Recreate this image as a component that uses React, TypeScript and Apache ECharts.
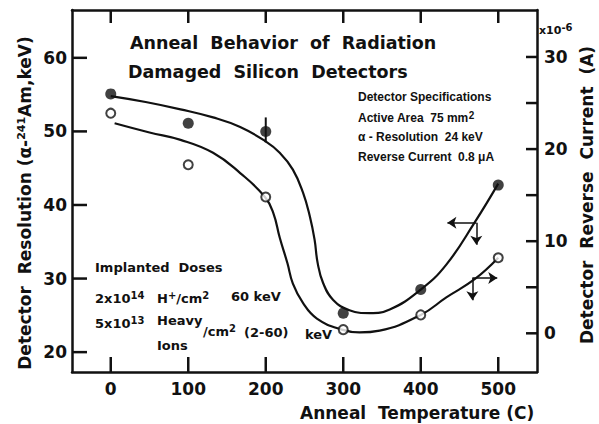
import React, { useEffect, useRef } from "react";
import * as echarts from "echarts";

// ---- data ----
const temperatures = [0, 100, 200, 300, 400, 500];
const resolutionKeV = [55.1, 51.1, 50.0, 25.3, 28.5, 42.7];
const reverseCurrent = [23.9, 18.3, 14.8, 0.4, 2.0, 8.2];

const resolutionFitT = [0, 45, 90, 132, 167, 199, 218, 235, 248, 257, 263, 267, 274, 287, 308, 334, 360, 400, 433, 470, 500];
const resolutionFitV = [54.8, 54.0, 53.0, 51.9, 50.6, 48.7, 47.1, 44.8, 41.7, 38.4, 35.3, 32.1, 29.4, 27.1, 25.7, 25.3, 25.8, 28.5, 31.9, 37.7, 42.9];

const currentFitT = [5, 50, 90, 132, 167, 199, 210, 218, 228, 235, 248, 266, 298, 321, 347, 400, 433, 470, 500];
const currentFitV = [22.8, 21.8, 21.0, 19.6, 17.4, 14.8, 13.0, 10.4, 7.6, 5.4, 3.3, 1.6, 0.4, 0.1, 0.3, 2.0, 3.9, 5.9, 8.2];

// error bar on the 200 C resolution point: [T, low, high]
const resolutionErrorBar = [200, 48.5, 51.9];

// axis arrows: [x1, y1, x2, y2]
const resolutionArrows = [
  [471.7, 37.6, 434.4, 37.6],
  [471.7, 37.6, 471.7, 34.6],
];
const currentArrows = [
  [466.6, 6.0, 498.7, 6.0],
  [466.6, 6.0, 466.6, 3.6],
];

// axis ranges and ticks
const X_RANGE = [-50, 550];
const LEFT_RANGE = [17.3, 66.5];
const RIGHT_RANGE = [-4.2, 35.1];
const xTicks = [0, 100, 200, 300, 400, 500];
const leftTicks = [20, 30, 40, 50, 60];
const rightTicks = [0, 5, 10, 15, 20, 25, 30];
const rightLabels = [0, 10, 20, 30];

const INK = "#111";
const FONT = "DejaVu Sans";
const FONT_NARROW = "Liberation Sans";

export default function App() {
  const ref = useRef<HTMLDivElement>(null);

  useEffect(() => {
    if (!ref.current) return;
    const chart = echarts.init(ref.current, undefined, { renderer: "svg" });

    const toPairs = (xs: number[], ys: number[]) => xs.map((x, i) => [x, ys[i]]);
    const arrowData = (arr: number[][]) =>
      arr.map((a) => [{ coord: [a[0], a[1]] }, { coord: [a[2], a[3]] }]);

    const supStyle = (size: number, lift: number, family = FONT) => ({
      fontSize: size,
      fontWeight: "bold",
      fontFamily: family,
      fill: INK,
      color: INK,
      verticalAlign: "top",
      padding: [0, 0, lift, 0],
    });

    const txt = (left: number, top: number, text: string, fontSize: number, rich?: any, family = FONT) => ({
      type: "text",
      left,
      top,
      style: { text, fontSize, fontWeight: "bold", fontFamily: family, fill: INK, rich },
    });

    const tickLine = (x1: number, y1: number, x2: number, y2: number) => ({
      type: "line",
      shape: { x1, y1, x2, y2 },
      style: { stroke: INK, lineWidth: 2.5 },
    });

    const baseAxisLine = { show: true, onZero: false, lineStyle: { color: INK, width: 2.5 } };
    const tickLabel = { fontSize: 17, fontWeight: "bold", fontFamily: FONT, color: INK };

    const option: any = {
      animation: false,
      backgroundColor: "#fff",
      grid: { left: 72, right: 62, top: 10, bottom: 52 },
      xAxis: [
        {
          type: "value",
          min: X_RANGE[0],
          max: X_RANGE[1],
          position: "bottom",
          axisLine: baseAxisLine,
          axisTick: { show: false },
          axisLabel: { customValues: xTicks, margin: 8, ...tickLabel },
          splitLine: { show: false },
        },
        {
          type: "value",
          min: X_RANGE[0],
          max: X_RANGE[1],
          position: "top",
          axisLine: baseAxisLine,
          axisTick: { show: false },
          axisLabel: { show: false },
          splitLine: { show: false },
        },
      ],
      yAxis: [
        {
          type: "value",
          min: LEFT_RANGE[0],
          max: LEFT_RANGE[1],
          position: "left",
          axisLine: baseAxisLine,
          axisTick: { show: false },
          axisLabel: { customValues: leftTicks, margin: 5, ...tickLabel },
          splitLine: { show: false },
        },
        {
          type: "value",
          min: RIGHT_RANGE[0],
          max: RIGHT_RANGE[1],
          position: "right",
          axisLine: baseAxisLine,
          axisTick: { show: false },
          axisLabel: { customValues: rightLabels, margin: 7, ...tickLabel },
          splitLine: { show: false },
        },
      ],
      series: [
        // inward ticks on bottom and top frame
        {
          type: "custom",
          xAxisIndex: 0,
          yAxisIndex: 0,
          silent: true,
          clip: false,
          data: xTicks.map((t) => [t, LEFT_RANGE[0]]),
          renderItem: (_p: any, api: any) => {
            const t = api.value(0);
            const b = api.coord([t, LEFT_RANGE[0]]);
            const tp = api.coord([t, LEFT_RANGE[1]]);
            return {
              type: "group",
              children: [tickLine(b[0], b[1], b[0], b[1] - 15), tickLine(tp[0], tp[1], tp[0], tp[1] + 13)],
            };
          },
        },
        // inward ticks on left frame
        {
          type: "custom",
          xAxisIndex: 0,
          yAxisIndex: 0,
          silent: true,
          clip: false,
          data: leftTicks.map((v) => [X_RANGE[0], v]),
          renderItem: (_p: any, api: any) => {
            const p = api.coord([X_RANGE[0], api.value(1)]);
            return tickLine(p[0], p[1], p[0] + 15, p[1]);
          },
        },
        // inward ticks on right frame
        {
          type: "custom",
          xAxisIndex: 0,
          yAxisIndex: 1,
          silent: true,
          clip: false,
          data: rightTicks.map((v) => [X_RANGE[1], v]),
          renderItem: (_p: any, api: any) => {
            const p = api.coord([X_RANGE[1], api.value(1)]);
            return tickLine(p[0], p[1], p[0] - 11, p[1]);
          },
        },
        {
          type: "line",
          name: "resolution fit",
          xAxisIndex: 0,
          yAxisIndex: 0,
          data: toPairs(resolutionFitT, resolutionFitV),
          smooth: 0.45,
          symbol: "none",
          lineStyle: { color: INK, width: 2.2 },
          silent: true,
          markLine: {
            silent: true,
            symbol: ["none", "arrow"],
            symbolSize: 9,
            label: { show: false },
            lineStyle: { color: INK, width: 1.5, type: "solid" },
            itemStyle: { color: INK },
            data: arrowData(resolutionArrows),
          },
        },
        {
          type: "line",
          name: "current fit",
          xAxisIndex: 0,
          yAxisIndex: 1,
          data: toPairs(currentFitT, currentFitV),
          smooth: 0.45,
          symbol: "none",
          lineStyle: { color: INK, width: 2.2 },
          silent: true,
          markLine: {
            silent: true,
            symbol: ["none", "arrow"],
            symbolSize: 9,
            label: { show: false },
            lineStyle: { color: INK, width: 1.5, type: "solid" },
            itemStyle: { color: INK },
            data: arrowData(currentArrows),
          },
        },
        {
          type: "line",
          name: "error bar",
          xAxisIndex: 0,
          yAxisIndex: 0,
          data: [
            [resolutionErrorBar[0], resolutionErrorBar[1]],
            [resolutionErrorBar[0], resolutionErrorBar[2]],
          ],
          symbol: "none",
          lineStyle: { color: INK, width: 2 },
          silent: true,
        },
        {
          type: "scatter",
          name: "resolution",
          xAxisIndex: 0,
          yAxisIndex: 0,
          data: toPairs(temperatures, resolutionKeV),
          symbol: "circle",
          symbolSize: 11,
          itemStyle: { color: INK, borderColor: INK, borderWidth: 0 },
          z: 5,
        },
        {
          type: "scatter",
          name: "reverse current",
          xAxisIndex: 0,
          yAxisIndex: 1,
          data: toPairs(temperatures, reverseCurrent),
          symbol: "circle",
          symbolSize: 9,
          itemStyle: { color: "#fff", borderColor: INK, borderWidth: 2 },
          z: 5,
        },
      ],
      graphic: [
        // title
        txt(130, 34, "Anneal  Behavior  of  Radiation", 17.5),
        txt(128, 63, "Damaged  Silicon  Detectors", 17.5),
        // specifications
        txt(358, 91, "Detector Specifications", 12, undefined, FONT_NARROW),
        txt(358, 110, "Active Area  75 mm{sup|2}", 12, { sup: supStyle(10, 6, FONT_NARROW) }, FONT_NARROW),
        txt(358, 131, "α - Resolution  24 keV", 12, undefined, FONT_NARROW),
        txt(358, 151, "Reverse Current  0.8 μA", 12, undefined, FONT_NARROW),
        // implanted doses
        txt(95, 261, "Implanted  Doses", 13),
        txt(95, 290, "2x10{sup|14}", 13, { sup: supStyle(10, 6) }),
        txt(157, 290, "H{sup|+}/cm{sup|2}", 13, { sup: supStyle(10, 6) }),
        txt(231, 290, "60 keV", 13),
        txt(95, 315, "5x10{sup|13}", 13, { sup: supStyle(10, 6) }),
        txt(157, 314, "Heavy", 13),
        txt(203, 323, "/cm{sup|2}", 13, { sup: supStyle(10, 6) }),
        txt(244, 326, "(2-60)", 13),
        txt(305, 328, "keV", 13),
        txt(157, 339, "Ions", 13),
        // multiplier of right axis
        txt(539, 22, "x10{sup|-6}", 11, { sup: supStyle(10, 7) }),
        // axis names
        {
          type: "text",
          x: 25,
          y: 203,
          rotation: Math.PI / 2,
          style: {
            text: "Detector  Resolution (α-{sup|241}Am,keV)",
            fontSize: 17,
            fontWeight: "bold",
            fontFamily: FONT,
            fill: INK,
            align: "center",
            verticalAlign: "middle",
            rich: { sup: supStyle(11, 8) },
          },
        },
        {
          type: "text",
          x: 587,
          y: 195,
          rotation: Math.PI / 2,
          style: {
            text: "Detector  Reverse  Current  (A)",
            fontSize: 17,
            fontWeight: "bold",
            fontFamily: FONT,
            fill: INK,
            align: "center",
            verticalAlign: "middle",
          },
        },
        txt(300, 404, "Anneal  Temperature (C)", 17),
      ],
    };

    chart.setOption(option);
    return () => chart.dispose();
  }, []);

  return (
    <div
      ref={ref}
      style={{ position: "fixed", left: 0, top: 0, width: 599, height: 424, background: "#fff" }}
    />
  );
}
